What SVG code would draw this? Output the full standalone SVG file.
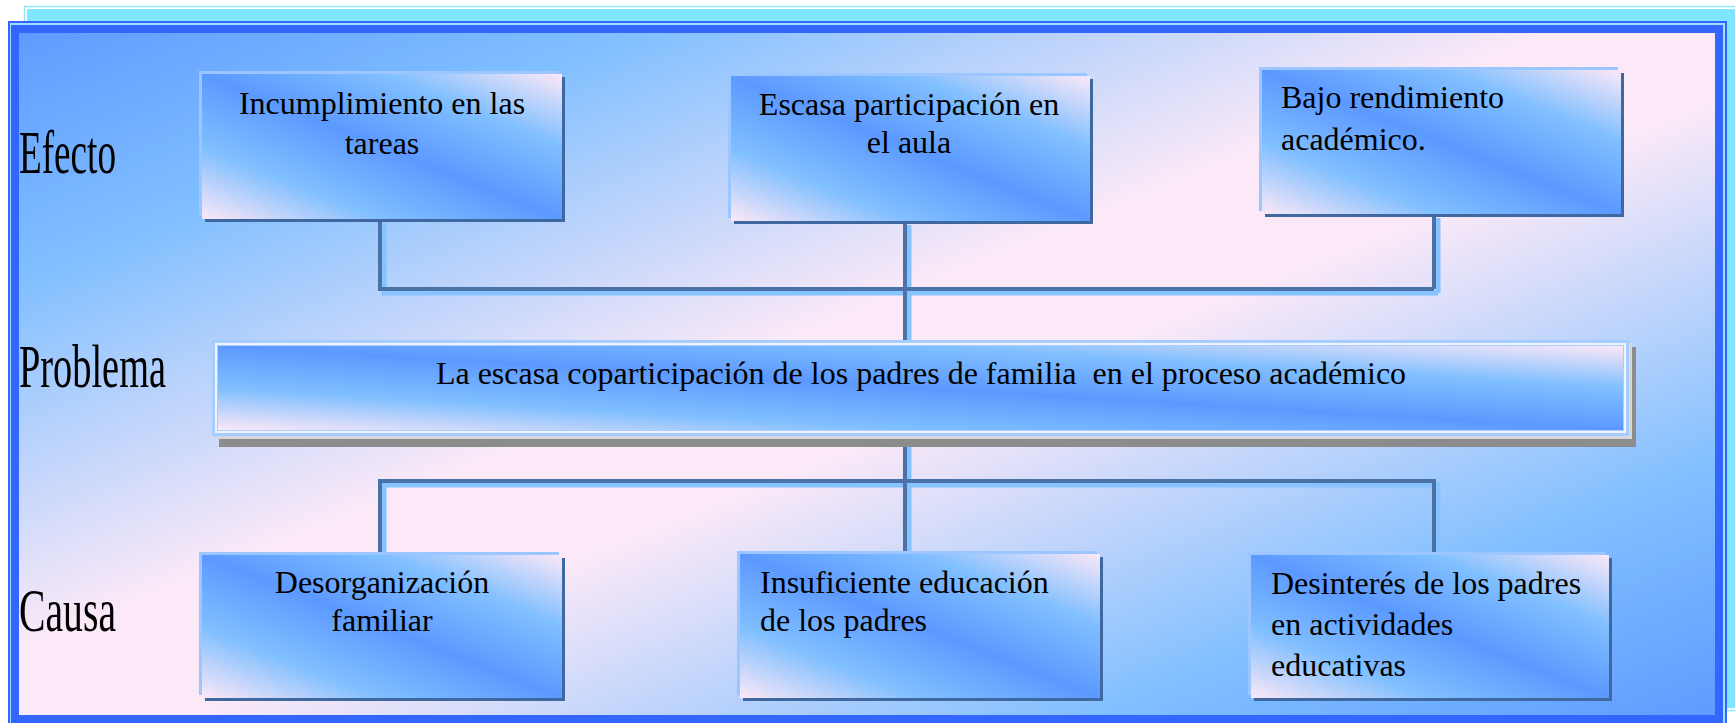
<svg xmlns="http://www.w3.org/2000/svg" width="1735" height="723" viewBox="0 0 1735 723">
<defs>
<linearGradient id="bg" x1="0" y1="0" x2="1" y2="1">
<stop offset="0" stop-color="#5F9BFF"/>
<stop offset="0.18" stop-color="#80BFFF"/>
<stop offset="0.45" stop-color="#FBE9F8"/>
<stop offset="0.55" stop-color="#FBE9F8"/>
<stop offset="0.82" stop-color="#80BFFF"/>
<stop offset="1" stop-color="#5F9BFF"/>
</linearGradient>
<linearGradient id="box" x1="0" y1="1" x2="1" y2="0">
<stop offset="0" stop-color="#FCE8F8"/>
<stop offset="0.25" stop-color="#80BFFF"/>
<stop offset="0.5" stop-color="#5C99FF"/>
<stop offset="0.75" stop-color="#80BFFF"/>
<stop offset="1" stop-color="#FCE8F8"/>
</linearGradient>
</defs>
<style>
.lbl{font-family:"Liberation Serif","Times New Roman",serif;font-size:62px;fill:#000}
.t{font-family:"Liberation Serif","Times New Roman",serif;font-size:32px;fill:#000}
.c{text-anchor:middle}
.hi{fill:#9CC6FF}
.sh{fill:#3F67A0}
.bx{fill:url(#box)}
.dk{fill:none;stroke:#4A72A6;stroke-width:4}
.lt{fill:none;stroke:#86C3FF;stroke-width:5}
</style>
<g id="frame">
<rect x="27" y="9" width="1708" height="699" fill="#80E5FF"/>
<rect x="24.5" y="6.5" width="1712" height="704" fill="none" stroke="#8FE8FF" stroke-width="1.5"/>
<rect x="9" y="22" width="1717" height="710" fill="#9FDCFF" stroke="#3366FF" stroke-width="2"/>
<rect x="19" y="33" width="1696" height="682" fill="url(#bg)"/>
<rect x="15" y="29" width="1704" height="690" fill="none" stroke="#3366FF" stroke-width="8"/>
</g>
<g id="labels">
<text class="lbl" x="19" y="173" textLength="97" lengthAdjust="spacingAndGlyphs">Efecto</text>
<text class="lbl" x="19" y="387" textLength="147" lengthAdjust="spacingAndGlyphs">Problema</text>
<text class="lbl" x="19" y="631" textLength="97" lengthAdjust="spacingAndGlyphs">Causa</text>
</g>
<g id="connectors">
<g transform="translate(4,4)">
<path class="lt" d="M380 219 V289 H1434"/>
<path class="lt" d="M1434 214 V289"/>
<path class="lt" d="M905 221 V341"/>
<path class="lt" d="M905 436 V554"/>
<path class="lt" d="M380 555 V481 H1434 V555"/>
</g>
<path class="dk" d="M380 219 V289 H1434"/>
<path class="dk" d="M1434 214 V289"/>
<path class="dk" d="M905 221 V341"/>
<path class="dk" d="M905 436 V554"/>
<path class="dk" d="M380 555 V481 H1434 V555"/>
</g>
<g id="efecto1">
<rect class="hi" x="199" y="71" width="360" height="145"/>
<rect class="sh" x="205" y="77" width="360" height="145"/>
<rect class="bx" x="202" y="74" width="360" height="145"/>
<text class="t c" x="382" y="114">Incumplimiento en las</text>
<text class="t c" x="382" y="154">tareas</text>
</g>
<g id="efecto2">
<rect class="hi" x="728" y="73" width="359" height="145"/>
<rect class="sh" x="734" y="79" width="359" height="145"/>
<rect class="bx" x="731" y="76" width="359" height="145"/>
<text class="t c" x="909" y="115">Escasa participación en</text>
<text class="t c" x="909" y="153">el aula</text>
</g>
<g id="efecto3">
<rect class="hi" x="1259" y="67" width="359" height="144"/>
<rect class="sh" x="1265" y="73" width="359" height="144"/>
<rect class="bx" x="1262" y="70" width="359" height="144"/>
<text class="t" x="1281" y="108">Bajo rendimiento</text>
<text class="t" x="1281" y="150">académico.</text>
</g>
<g id="problema">
<rect x="219" y="347" width="1417" height="100" fill="#8C8C8C"/>
<rect x="215" y="343" width="1417" height="96" fill="#D6D6DE"/>
<rect x="212" y="340" width="1417" height="96" fill="#A3CEFF"/>
<rect x="216" y="344" width="1409" height="88" fill="none" stroke="#F5F2FA" stroke-width="2"/>
<rect class="bx" x="218" y="346" width="1405" height="84"/>
<text class="t c" x="921" y="384" xml:space="preserve">La escasa coparticipación de los padres de familia  en el proceso académico</text>
</g>
<g id="causa1">
<rect class="hi" x="199" y="552" width="360" height="143"/>
<rect class="sh" x="205" y="558" width="360" height="143"/>
<rect class="bx" x="202" y="555" width="360" height="143"/>
<text class="t c" x="382" y="593">Desorganización</text>
<text class="t c" x="382" y="631">familiar</text>
</g>
<g id="causa2">
<rect class="hi" x="737" y="551" width="360" height="144"/>
<rect class="sh" x="743" y="557" width="360" height="144"/>
<rect class="bx" x="740" y="554" width="360" height="144"/>
<text class="t" x="760" y="593">Insuficiente educación</text>
<text class="t" x="760" y="631">de los padres</text>
</g>
<g id="causa3">
<rect class="hi" x="1248" y="552" width="358" height="143"/>
<rect class="sh" x="1254" y="558" width="358" height="143"/>
<rect class="bx" x="1251" y="555" width="358" height="143"/>
<text class="t" x="1271" y="594">Desinterés de los padres</text>
<text class="t" x="1271" y="635">en actividades</text>
<text class="t" x="1271" y="676">educativas</text>
</g>
</svg>
